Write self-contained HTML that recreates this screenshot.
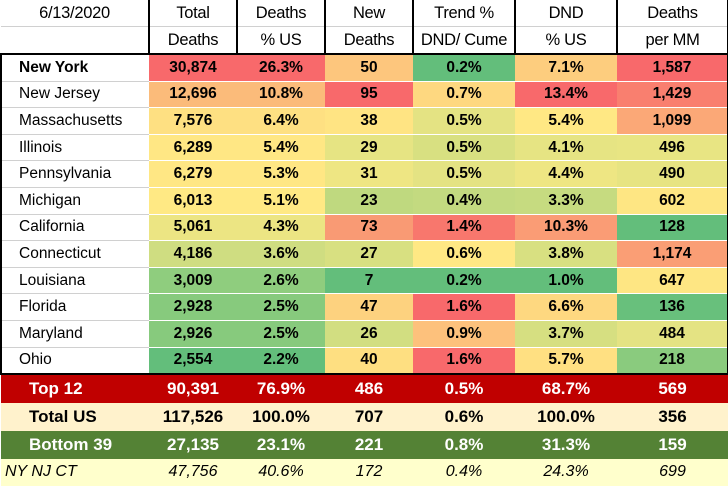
<!DOCTYPE html>
<html><head><meta charset="utf-8"><style>
body{margin:0;background:#fff;width:728px;height:488px;overflow:hidden}
table{border-collapse:collapse;table-layout:fixed;font-family:"Liberation Sans",sans-serif;font-size:15.5px;position:absolute;left:0;top:0;width:727px}
td{padding:0;text-align:center;white-space:nowrap;overflow:hidden}
tr.h td{height:26px;font-weight:normal;font-size:16.5px;letter-spacing:-0.3px}
tr.h1 td{border-bottom:1px solid #d0d0d0}
tr.h2 td{border-bottom:2px solid #000}
tr.h td.v{border-left:2px solid #000;border-right:2px solid #000}
tr.d td{height:25.6px;font-weight:bold;border-bottom:1px solid transparent}
tr.d td:first-child{text-align:left;padding-left:17px;font-weight:normal;border-bottom:1px solid #d0d0d0;border-left:2px solid #000}
tr.d td:last-child{border-right:2px solid #000}
tr.last td{border-bottom:2px solid #000 !important}
tr.f td{height:27.8px;font-weight:bold;font-size:17px}
tr.f td:first-child{text-align:left;padding-left:28px}
.top td{background:#c00000;color:#fff}
.tot td{background:#fff2cc;color:#000}
.bot td{background:#548235;color:#fff}
.ny td{background:#ffffcc;font-weight:normal!important;font-style:italic;font-size:16px!important}
.ny td:first-child{padding-left:4px!important}
</style></head><body>
<table>
<colgroup><col style="width:148px"><col style="width:88px"><col style="width:88px"><col style="width:88px"><col style="width:102px"><col style="width:102px"><col style="width:111px"></colgroup>
<tr class="h h1"><td>6/13/2020</td><td class="v">Total</td><td class="v">Deaths</td><td class="v">New</td><td class="v">Trend %</td><td class="v">DND</td><td class="v">Deaths</td></tr>
<tr class="h h2"><td></td><td class="v">Deaths</td><td class="v">% US</td><td class="v">Deaths</td><td class="v">DND/ Cume</td><td class="v">% US</td><td class="v">per MM</td></tr>
<tr class="d"><td style="font-weight:bold">New York</td><td style="background:#f8696b">30,874</td><td style="background:#f8696b">26.3%</td><td style="background:#fdc67d">50</td><td style="background:#63be7b">0.2%</td><td style="background:#fdcd7e">7.1%</td><td style="background:#f8696b">1,587</td></tr>
<tr class="d"><td>New Jersey</td><td style="background:#fbbb7a">12,696</td><td style="background:#fbbb7a">10.8%</td><td style="background:#f8696b">95</td><td style="background:#fed880">0.7%</td><td style="background:#f8696b">13.4%</td><td style="background:#f97f6f">1,429</td></tr>
<tr class="d"><td>Massachusetts</td><td style="background:#fee082">7,576</td><td style="background:#fee082">6.4%</td><td style="background:#ffe483">38</td><td style="background:#e4e383">0.5%</td><td style="background:#ffe884">5.4%</td><td style="background:#fba877">1,099</td></tr>
<tr class="d"><td>Illinois</td><td style="background:#ffe784">6,289</td><td style="background:#ffe784">5.4%</td><td style="background:#e6e483">29</td><td style="background:#d8e081">0.5%</td><td style="background:#e6e483">4.1%</td><td style="background:#e8e583">496</td></tr>
<tr class="d"><td>Pennsylvania</td><td style="background:#ffe784">6,279</td><td style="background:#ffe784">5.3%</td><td style="background:#eee683">31</td><td style="background:#e4e383">0.5%</td><td style="background:#eee683">4.4%</td><td style="background:#e7e482">490</td></tr>
<tr class="d"><td>Michigan</td><td style="background:#ffe984">6,013</td><td style="background:#ffe984">5.1%</td><td style="background:#bfd97f">23</td><td style="background:#c3da80">0.4%</td><td style="background:#c6db80">3.3%</td><td style="background:#fee683">602</td></tr>
<tr class="d"><td>California</td><td style="background:#ece583">5,061</td><td style="background:#ece583">4.3%</td><td style="background:#f99a74">73</td><td style="background:#f8776d">1.4%</td><td style="background:#fa9c75">10.3%</td><td style="background:#63be7b">128</td></tr>
<tr class="d"><td>Connecticut</td><td style="background:#cfdd81">4,186</td><td style="background:#cfdd81">3.6%</td><td style="background:#d8e081">27</td><td style="background:#ffe884">0.6%</td><td style="background:#d8e081">3.8%</td><td style="background:#fa9e75">1,174</td></tr>
<tr class="d"><td>Louisiana</td><td style="background:#8fcd7e">3,009</td><td style="background:#8fcd7e">2.6%</td><td style="background:#63be7b">7</td><td style="background:#63be7b">0.2%</td><td style="background:#63be7b">1.0%</td><td style="background:#fee683">647</td></tr>
<tr class="d"><td>Florida</td><td style="background:#87ca7d">2,928</td><td style="background:#87ca7d">2.5%</td><td style="background:#fdd27f">47</td><td style="background:#f8696b">1.6%</td><td style="background:#fed880">6.6%</td><td style="background:#68c07c">136</td></tr>
<tr class="d"><td>Maryland</td><td style="background:#87ca7d">2,926</td><td style="background:#87ca7d">2.5%</td><td style="background:#d2de81">26</td><td style="background:#fdc17c">0.9%</td><td style="background:#d6df81">3.7%</td><td style="background:#e4e383">484</td></tr>
<tr class="d last"><td>Ohio</td><td style="background:#63be7b">2,554</td><td style="background:#63be7b">2.2%</td><td style="background:#fedf81">40</td><td style="background:#f8696b">1.6%</td><td style="background:#ffe082">5.7%</td><td style="background:#8acb7e">218</td></tr>
<tr class="f top"><td>Top 12</td><td>90,391</td><td>76.9%</td><td>486</td><td>0.5%</td><td>68.7%</td><td>569</td></tr>
<tr class="f tot"><td>Total US</td><td>117,526</td><td>100.0%</td><td>707</td><td>0.6%</td><td>100.0%</td><td>356</td></tr>
<tr class="f bot"><td>Bottom 39</td><td>27,135</td><td>23.1%</td><td>221</td><td>0.8%</td><td>31.3%</td><td>159</td></tr>
<tr class="f ny"><td>NY NJ CT</td><td>47,756</td><td>40.6%</td><td>172</td><td>0.4%</td><td>24.3%</td><td>699</td></tr>
</table>
</body></html>
